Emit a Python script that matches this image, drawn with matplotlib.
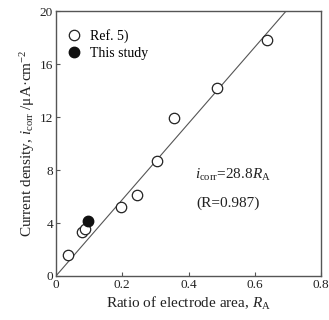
import matplotlib

matplotlib.use("Agg")
import matplotlib.pyplot as plt

plt.rcParams["font.family"] = "Liberation Serif"
plt.rcParams["mathtext.fontset"] = "custom"
plt.rcParams["mathtext.rm"] = "Liberation Serif"
plt.rcParams["mathtext.it"] = "Liberation Serif:italic"

# Ref. 5) data (open circles)
ref_ra = [0.036, 0.078, 0.087, 0.195, 0.245, 0.304, 0.356, 0.486, 0.636]
ref_i = [1.6, 3.3, 3.55, 5.2, 6.1, 8.65, 11.95, 14.2, 17.85]
# This study (filled)
our_ra = [0.097]
our_i = [4.17]
slope = 28.8
fit_ra = [0.0, 20.0 / slope]

INK = "#222222"
SPINE = "#555555"

fig = plt.figure(figsize=(3.29, 3.20), dpi=100)
ax = fig.add_axes([0.170, 0.1375, 0.806, 0.828])

ax.plot(fit_ra, [slope * r for r in fit_ra], color="#555555", lw=0.8, zorder=2)
ax.plot(ref_ra, ref_i, "o", ms=7.5, mfc="white", mec=INK, mew=0.9, ls="none",
        zorder=3, label="Ref. 5)")
ax.plot(our_ra, our_i, "o", ms=7.5, mfc="#111111", mec="#111111", ls="none",
        zorder=4, label="This study")

ax.set_xlim(0, 0.8)
ax.set_ylim(0, 20)
ax.set_xticks([0, 0.2, 0.4, 0.6, 0.8])
ax.set_xticklabels(["0", "0.2", "0.4", "0.6", "0.8"])
ax.set_yticks([0, 4, 8, 12, 16, 20])
ax.tick_params(direction="in", length=3, width=0.8, colors=SPINE,
               labelcolor=INK, labelsize=9.5, pad=2)
for s in ax.spines.values():
    s.set_color(SPINE)
    s.set_linewidth(1.0)

ax.set_xlabel("Ratio of electrode area, $\\mathit{R}_{\\mathrm{A}}$",
              fontsize=11, color=INK, labelpad=3)
ax.set_ylabel("Current density, $\\mathit{i}_{\\mathrm{corr}}$ /\u03bcA\u00b7cm$^{-2}$",
              fontsize=11, color=INK, labelpad=2)

ax.legend(loc="upper left", frameon=False, fontsize=10, handletextpad=0.1,
          borderaxespad=0.3, labelspacing=0.3, bbox_to_anchor=(-0.02, 0.97))

ax.text(0.535, 7.6, "$\\mathit{i}_{\\mathrm{corr}}$=28.8$\\mathit{R}_{\\mathrm{A}}$",
        ha="center", va="center", fontsize=11, color=INK)
ax.text(0.52, 5.5, "(R=0.987)", ha="center", va="center", fontsize=11, color=INK)

fig.savefig("out.png", dpi=100)
